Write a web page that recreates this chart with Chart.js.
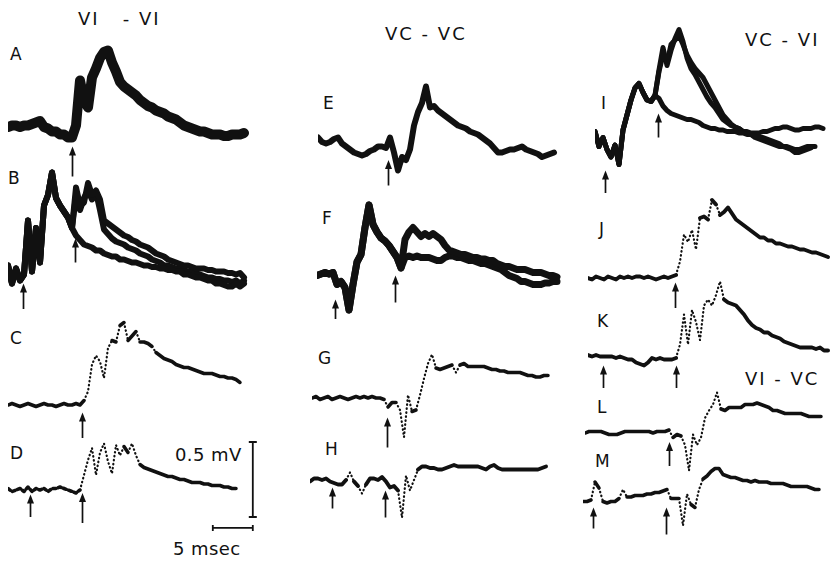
<!DOCTYPE html>
<html>
<head>
<meta charset="utf-8">
<script src="https://cdn.jsdelivr.net/npm/chart.js@4.4.0/dist/chart.umd.min.js"></script>
<style>
  body { margin: 0; background: #fff; }
  #fig { position: relative; width: 831px; height: 562px; overflow: hidden; background: #fff; }
  #fig canvas { position: absolute; pointer-events: none; }
  .t { position: absolute; font-family: "DejaVu Sans", sans-serif; color: #111; line-height: 1; white-space: pre; }
  .lab { font-size: 17px; }
  .ttl { font-size: 18px; letter-spacing: 2px; }
  .cal { font-size: 18px; letter-spacing: 0.4px; }
</style>
</head>
<body>
<div id="fig">
  <div class="t ttl" style="left:78px; top:10px;">VI   - VI</div>
  <div class="t ttl" style="left:385px; top:25px;">VC - VC</div>
  <div class="t ttl" style="left:745px; top:31px;">VC - VI</div>
  <div class="t ttl" style="left:745px; top:370px;">VI - VC</div>
  <div class="t lab" style="left:10px; top:46px;">A</div>
  <div class="t lab" style="left:8px; top:170px;">B</div>
  <div class="t lab" style="left:10px; top:330px;">C</div>
  <div class="t lab" style="left:10px; top:445px;">D</div>
  <div class="t lab" style="left:323px; top:95px;">E</div>
  <div class="t lab" style="left:322px; top:210px;">F</div>
  <div class="t lab" style="left:318px; top:350px;">G</div>
  <div class="t lab" style="left:325px; top:441px;">H</div>
  <div class="t lab" style="left:601px; top:95px;">I</div>
  <div class="t lab" style="left:599px; top:221px;">J</div>
  <div class="t lab" style="left:597px; top:313px;">K</div>
  <div class="t lab" style="left:597px; top:399px;">L</div>
  <div class="t lab" style="left:595px; top:453px;">M</div>
  <div class="t cal" style="left:175px; top:446px;">0.5 mV</div>
  <div class="t cal" style="left:173px; top:540px;">5 msec</div>
</div>
<script>
// sampling of every trace: one value each 0.5 ms, values in mV from baseline
const STEP = 0.5;

// VI - VI
const traceA = [0.02,0.03,0.03,0.02,0.03,0.03,0.04,0.05,0.06,0.02,0.01,-0.01,-0.01,-0.03,-0.03,-0.05,-0.05,
  0.03,0.33,0.20,0.15,0.35,0.41,0.48,0.52,0.53,0.45,0.39,0.32,0.29,0.27,0.25,0.23,0.20,0.18,0.16,0.15,0.13,0.12,
  0.11,0.09,0.08,0.07,0.05,0.03,0.02,0.01,0,-0.01,-0.01,-0.02,-0.03,-0.03,-0.03,-0.04,-0.04,-0.03,-0.03,-0.03,-0.02];
const traceBonset = [0.03,-0.09,0.01,-0.07,-0.03,0.33,-0.01,0.28,0.05,0.43,0.50,0.65,0.48,0.43,0.39,0.35,0.28];
const traceB1 = traceBonset.concat([0.23,0.20,0.17,0.16,0.15,0.13,0.13,0.11,0.10,0.09,0.09,0.07,0.07,0.06,0.05,0.05,
  0.04,0.03,0.03,0.02,0.02,0.01,0.01,0,0,-0.01,-0.01,-0.03,-0.03,-0.04,-0.05,-0.05,-0.06,-0.07,-0.07,-0.09,-0.09,
  -0.10,-0.11,-0.11,-0.09,-0.11,-0.09]);
const traceB2 = traceBonset.concat([0.55,0.43,0.45,0.58,0.50,0.53,0.47,0.33,0.31,0.29,0.27,0.25,0.23,0.22,0.20,0.19,
  0.17,0.16,0.15,0.13,0.11,0.10,0.09,0.07,0.06,0.05,0.04,0.03,0.03,0.02,0.01,0.01,0.01,0,0,-0.01,-0.01,-0.01,
  -0.02,-0.02,-0.03,-0.02,-0.05]);
const traceB3 = traceBonset.concat([0.50,0.40,0.48,0.53,0.47,0.52,0.40,0.27,0.24,0.21,0.19,0.18,0.17,0.15,0.14,0.13,
  0.11,0.10,0.09,0.07,0.06,0.05,0.03,0.03,0.02,0.01,0.01,0,-0.01,-0.01,-0.02,-0.03,-0.04,-0.05,-0.05,-0.06,-0.06,
  -0.07,-0.07,-0.08,-0.07,-0.09,-0.07]);
const traceC = [0,0.01,0,-0.01,0,0.01,0,-0.01,0,0.01,0,0,-0.01,0,0.01,0,0,0.01,0,
  0.03,0.09,0.27,0.33,0.29,0.18,0.38,0.43,0.42,0.53,0.55,0.43,0.46,0.49,0.42,0.42,0.41,0.39,0.35,0.33,0.31,0.30,
  0.29,0.27,0.26,0.25,0.25,0.24,0.23,0.22,0.21,0.21,0.21,0.20,0.19,0.19,0.18,0.18,0.17,0.15];
const traceD = [0.01,-0.01,0,0.01,-0.01,0.02,-0.01,0.01,0,0.01,-0.01,0.01,0.01,0.02,0.01,0,-0.01,-0.02,0,
  0.10,0.20,0.28,0.10,0.25,0.31,0.19,0.11,0.30,0.23,0.29,0.25,0.31,0.23,0.17,0.15,0.14,0.13,0.12,0.11,0.10,0.09,
  0.09,0.08,0.07,0.07,0.06,0.05,0.05,0.05,0.04,0.04,0.03,0.03,0.03,0.02,0.02,0.01,0.01];

// VC - VC
const traceE = [0.05,0.02,0.01,0.02,0.04,0.05,0.01,-0.01,-0.03,-0.05,-0.06,-0.07,-0.06,-0.04,-0.03,-0.01,-0.01,-0.02,
  0.05,-0.05,-0.17,-0.08,-0.10,-0.03,0.13,0.22,0.28,0.39,0.25,0.26,0.23,0.21,0.19,0.17,0.15,0.13,0.12,0.11,0.09,
  0.08,0.07,0.05,0.03,0.01,-0.02,-0.05,-0.05,-0.04,-0.03,-0.03,-0.02,-0.01,-0.03,-0.04,-0.05,-0.06,-0.08,-0.07,-0.06,-0.05];
const traceFonset = [0.03,0.04,0.05,0.04,0.05,-0.03,-0.01,-0.05,-0.20,-0.03,0.12,0.17,0.35,0.50,0.37,0.32,0.28,0.26,
  0.23,0.19,0.15,0.08];
const traceF1 = traceFonset.concat([0.27,0.32,0.35,0.32,0.29,0.31,0.29,0.31,0.29,0.27,0.23,0.20,0.19,0.18,0.17,0.17,
  0.16,0.15,0.15,0.14,0.14,0.13,0.13,0.11,0.10,0.09,0.09,0.08,0.07,0.07,0.07,0.06,0.05,0.05,0.05,0.04,0.03,0.03,0.02]);
const traceF2 = traceFonset.concat([0.15,0.16,0.15,0.16,0.15,0.15,0.15,0.14,0.13,0.13,0.15,0.16,0.16,0.15,0.15,0.14,
  0.13,0.13,0.12,0.11,0.11,0.10,0.09,0.08,0.07,0.05,0.03,0.02,0.01,-0.01,-0.01,-0.02,-0.03,-0.03,-0.03,-0.02,-0.02,
  -0.01,-0.01]);
const traceG = [0,0.01,-0.01,0,0.01,-0.01,0,0.01,0,-0.01,0,0.01,0,0.01,0,0.01,0,0,-0.01,
  -0.06,-0.03,-0.03,-0.08,-0.26,0.02,-0.09,-0.08,0.02,0.13,0.23,0.29,0.20,0.19,0.20,0.21,0.22,0.17,0.22,0.23,0.21,
  0.21,0.21,0.21,0.21,0.20,0.19,0.19,0.18,0.18,0.17,0.17,0.17,0.17,0.16,0.15,0.15,0.14,0.14,0.15,0.15];
const traceH = [-0.01,0.01,0.01,0,0.01,-0.01,-0.02,-0.03,-0.03,0,0.05,-0.01,-0.04,-0.09,-0.03,0.01,0.01,0,0.02,-0.01,
  -0.05,-0.04,-0.07,-0.25,0.03,-0.07,0,0.07,0.09,0.09,0.08,0.08,0.07,0.07,0.08,0.09,0.10,0.09,0.09,0.09,
  0.09,0.09,0.09,0.08,0.07,0.09,0.10,0.08,0.07,0.07,0.07,0.07,0.07,0.07,0.07,0.07,0.07,0.07,0.08,0.09];

// VC - VI
const traceIonset = [-0.01,-0.11,-0.05,-0.13,-0.18,-0.10,-0.23,0,0.10,0.20,0.28,0.31,0.25,0.20,0.19,0.23];
const traceI1 = traceIonset.concat([0.21,0.16,0.13,0.11,0.10,0.09,0.08,0.07,0.07,0.06,0.05,0.03,0.02,0.01,0.01,0,0,
  -0.01,-0.01,-0.01,-0.02,-0.02,-0.03,-0.03,-0.04,-0.05,-0.05,-0.06,-0.07,-0.08,-0.09,-0.11,-0.11,-0.12,-0.13,-0.13,
  -0.12,-0.11,-0.11,-0.11]);
const traceI2 = traceIonset.concat([0.40,0.55,0.43,0.53,0.61,0.67,0.59,0.48,0.41,0.37,0.32,0.27,0.22,0.18,0.15,0.11,
  0.07,0.05,0.03,0.02,0.01,-0.01,-0.01,-0.02,-0.02,-0.02,-0.01,-0.01,0,0.01,0.01,0.02,0.02,0.01,0,0,0.01,0.01,0.01,
  0.02,0.02,0.01]);
const traceI3 = traceIonset.concat([0.39,0.50,0.45,0.57,0.60,0.63,0.57,0.50,0.45,0.41,0.38,0.35,0.30,0.25,0.20,0.15,
  0.10,0.07,0.04,0.02,0.01,-0.01,-0.02,-0.03,-0.05,-0.06,-0.07,-0.08,-0.09,-0.10,-0.11,-0.11,-0.12,-0.13,-0.15,-0.15,
  -0.14,-0.13,-0.12]);
const traceJ = [0,-0.01,0.01,0,-0.01,0.01,0,-0.01,0.01,0,0.01,0,0.01,0.01,0,0.01,0,-0.01,0,0.01,0,0.01,
  0.02,0.11,0.29,0.24,0.32,0.19,0.40,0.41,0.39,0.52,0.49,0.42,0.44,0.47,0.43,0.39,0.37,0.35,0.33,0.31,0.29,0.27,
  0.27,0.25,0.25,0.23,0.23,0.22,0.21,0.21,0.20,0.19,0.19,0.18,0.17,0.17,0.16,0.15,0.14];
const traceK = [0.02,0.01,0.02,0.01,0.01,0.01,0.01,0,0.01,0,-0.01,-0.01,-0.03,-0.04,-0.05,-0.03,0,-0.01,0,-0.01,-0.01,-0.01,0,
  0.09,0.29,0.09,0.32,0.24,0.12,0.35,0.39,0.35,0.42,0.51,0.39,0.37,0.36,0.35,0.32,0.29,0.25,0.22,0.20,0.19,0.17,
  0.17,0.15,0.14,0.13,0.11,0.10,0.09,0.08,0.07,0.07,0.07,0.07,0.06,0.07,0.05,0.05];

// VI - VC
const traceL = [0,0.01,0.01,0.01,0.01,0,-0.01,-0.01,-0.01,0,0.01,0.01,0.01,0.01,0.01,0.01,0.01,0,0.01,0.01,
  0.01,0.02,-0.03,-0.01,-0.02,-0.08,-0.25,-0.01,-0.08,-0.03,0.10,0.15,0.19,0.27,0.16,0.15,0.17,0.17,0.17,0.17,
  0.19,0.19,0.19,0.20,0.19,0.18,0.17,0.15,0.15,0.14,0.13,0.13,0.13,0.13,0.13,0.12,0.11,0.11,0.11,0.11];
const traceM = [-0.01,-0.01,0,0.12,0.08,-0.01,-0.02,-0.01,-0.01,0.01,0.07,0.02,0.02,0.03,0.03,0.03,0.04,0.04,0.05,0.05,
  0.06,0.07,0.01,0.01,0.01,-0.17,0.04,-0.03,-0.05,0.07,0.14,0.16,0.19,0.21,0.21,0.17,0.16,0.15,0.15,0.14,
  0.13,0.13,0.12,0.13,0.12,0.12,0.12,0.11,0.11,0.11,0.11,0.10,0.09,0.09,0.09,0.09,0.09,0.08,0.07,0.07];

// stimulus times (ms) marked by arrows
const stimA = [8.0];
const stimB = [1.9, 8.4];
const stimC = [9.25];
const stimD = [2.75, 9.25];
const stimE = [8.75];
const stimF = [2.25, 9.75];
const stimG = [9.4];
const stimH = [2.75, 9.4];
const stimI = [1.25, 7.9];
const stimJ = [10.9];
const stimK = [1.9, 11.0];
const stimL = [10.5];
const stimM = [1.25, 10.4];

// calibration
const calMv = 0.5;
const calMs = 5;

// layout: px per unit, window of every small chart
const MS_PX = 8, MV_PX = 150;
const XMAX = 32, YMIN = -0.6, YMAX = 0.8;
const INK = '#111';

const panels = [
  { sweeps: [traceA], stim: stimA, left: 8, zero: 130, lw: 10, tips: [-0.11], lens: [0.2] },
  { sweeps: [traceB1, traceB2, traceB3], stim: stimB, left: 8, zero: 270, lw: 6, tips: [-0.09, 0.21], lens: [0.17, 0.16] },
  { sweeps: [traceC], stim: stimC, left: 8, zero: 405, lw: 3.5, dotted: true, tips: [-0.05], lens: [0.17] },
  { sweeps: [traceD], stim: stimD, left: 8, zero: 490, lw: 3.5, dotted: true, dashUntil: 9.5, tips: [-0.03, -0.02], lens: [0.15, 0.2], cal: true },
  { sweeps: [traceE], stim: stimE, left: 318, zero: 145, lw: 6, tips: [-0.10], lens: [0.17] },
  { sweeps: [traceF1, traceF2], stim: stimF, left: 317, zero: 280, lw: 7, tips: [-0.13, 0.03], lens: [0.13, 0.18] },
  { sweeps: [traceG], stim: stimG, left: 312, zero: 398, lw: 3.5, dotted: true, tips: [-0.13], lens: [0.2] },
  { sweeps: [traceH], stim: stimH, left: 310, zero: 480, lw: 4, dotted: true, tips: [-0.05, -0.07], lens: [0.14, 0.18] },
  { sweeps: [traceI1, traceI2, traceI3], stim: stimI, left: 595, zero: 130, lw: 5, tips: [-0.27, 0.11], lens: [0.15, 0.16] },
  { sweeps: [traceJ], stim: stimJ, left: 588, zero: 278, lw: 4, dotted: true, tips: [-0.03], lens: [0.17] },
  { sweeps: [traceK], stim: stimK, left: 588, zero: 358, lw: 4, dotted: true, tips: [-0.05, -0.05], lens: [0.15, 0.15] },
  { sweeps: [traceL], stim: stimL, left: 585, zero: 433, lw: 3.5, dotted: true, tips: [-0.06], lens: [0.16] },
  { sweeps: [traceM], stim: stimM, left: 583, zero: 500, lw: 3.5, dotted: true, tips: [-0.05, -0.05], lens: [0.14, 0.18] }
];

// arrows under the traces + calibration bars
const marksPlugin = {
  id: 'marks',
  afterDatasetsDraw(chart, args, opts) {
    const p = opts.panel;
    const { ctx, scales: { x, y } } = chart;
    ctx.save();
    ctx.strokeStyle = INK;
    ctx.fillStyle = INK;
    ctx.lineWidth = 1.7;
    p.stim.forEach((t, i) => {
      const px = Math.round(x.getPixelForValue(t)) + 0.5;
      const yTip = y.getPixelForValue(p.tips[i]);
      const yBase = y.getPixelForValue(p.tips[i] - p.lens[i]);
      ctx.beginPath();
      ctx.moveTo(px, yBase);
      ctx.lineTo(px, yTip + 6);
      ctx.stroke();
      ctx.beginPath();
      ctx.moveTo(px, yTip);
      ctx.lineTo(px - 3.5, yTip + 9);
      ctx.lineTo(px + 3.5, yTip + 9);
      ctx.closePath();
      ctx.fill();
    });
    if (p.cal) {
      const vx = x.getPixelForValue(30.6);
      const vTop = y.getPixelForValue(0.32);
      const vBot = y.getPixelForValue(0.32 - calMv);
      ctx.lineWidth = 1.8;
      ctx.beginPath();
      ctx.moveTo(vx, vTop); ctx.lineTo(vx, vBot);
      ctx.moveTo(vx - 4, vTop); ctx.lineTo(vx + 4, vTop);
      ctx.moveTo(vx - 4, vBot); ctx.lineTo(vx + 4, vBot);
      const hy = y.getPixelForValue(-0.253);
      const hx0 = x.getPixelForValue(30.6 - calMs);
      ctx.moveTo(hx0, hy); ctx.lineTo(vx, hy);
      ctx.moveTo(hx0, hy - 3); ctx.lineTo(hx0, hy + 3);
      ctx.moveTo(vx, hy - 3); ctx.lineTo(vx, hy + 3);
      ctx.stroke();
    }
    ctx.restore();
  }
};

function buildPanel(p) {
  const cv = document.createElement('canvas');
  cv.width = XMAX * MS_PX;
  cv.height = Math.round((YMAX - YMIN) * MV_PX);
  cv.style.left = p.left + 'px';
  cv.style.top = Math.round(p.zero - YMAX * MV_PX) + 'px';
  document.getElementById('fig').appendChild(cv);

  const datasets = p.sweeps.map(s => ({
    data: s.map((v, i) => ({ x: i * STEP, y: v })),
    borderColor: INK,
    borderWidth: p.lw,
    borderJoinStyle: 'round',
    borderCapStyle: 'round',
    pointRadius: 0,
    tension: 0,
    clip: false,
    segment: {
      // fast parts of a single sweep show as dots, as on the film
      borderDash: c => {
        if (!p.dotted) return undefined;
        if (Math.abs(c.p1.parsed.y - c.p0.parsed.y) > 0.04) return [0.5, 3.5];
        if (p.dashUntil && c.p1.parsed.x <= p.dashUntil) return [3, 2.5];
        return undefined;
      },
      borderWidth: c => (p.dotted && Math.abs(c.p1.parsed.y - c.p0.parsed.y) > 0.04) ? 2.2 : p.lw
    }
  }));

  return new Chart(cv.getContext('2d'), {
    type: 'line',
    data: { datasets },
    options: {
      responsive: false,
      animation: false,
      events: [],
      layout: { padding: 0 },
      scales: {
        x: { type: 'linear', display: false, min: 0, max: XMAX },
        y: { type: 'linear', display: false, min: YMIN, max: YMAX }
      },
      plugins: {
        legend: { display: false },
        tooltip: { enabled: false },
        marks: { panel: p }
      }
    },
    plugins: [marksPlugin]
  });
}

panels.forEach(buildPanel);
</script>
</body>
</html>
